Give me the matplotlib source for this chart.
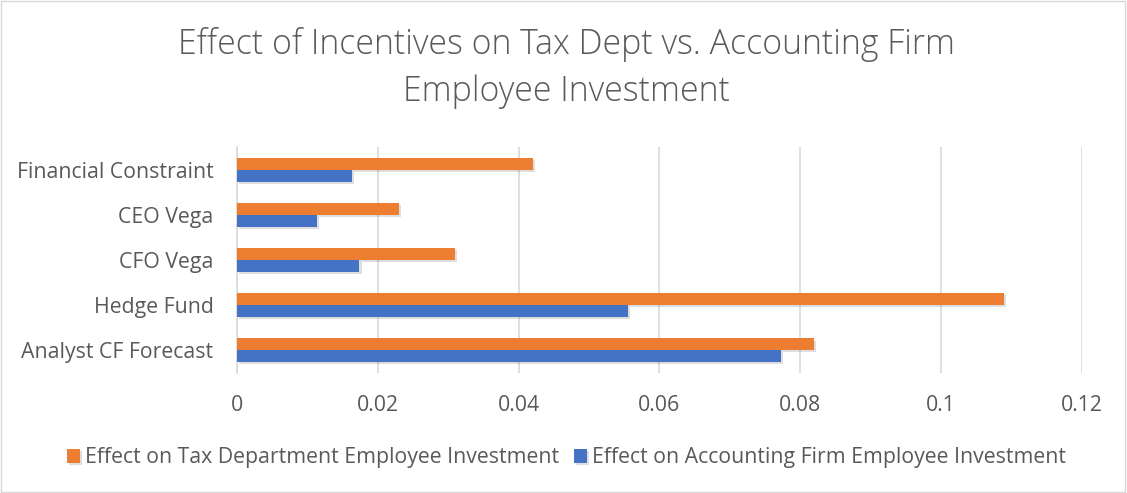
import numpy as np
import matplotlib.pyplot as plt
import matplotlib.patheffects as pe
from matplotlib.patches import Rectangle

categories = ["Analyst CF Forecast", "Hedge Fund", "CFO Vega", "CEO Vega", "Financial Constraint"]
tax_dept = [0.082, 0.109, 0.031, 0.023, 0.042]
acct_firm = [0.0773, 0.0555, 0.0174, 0.0114, 0.0163]
xticks = [0, 0.02, 0.04, 0.06, 0.08, 0.1, 0.12]
xtick_labels = ["0", "0.02", "0.04", "0.06", "0.08", "0.1", "0.12"]

ORANGE = "#ED7D31"
BLUE = "#4472C4"
TEXT = "#595959"

plt.rcParams["font.family"] = ["Open Sans", "DejaVu Sans"]

fig = plt.figure(figsize=(11.27, 4.93), dpi=100)
ax = fig.add_axes([0.2103, 1 - 373 / 493, 0.7494, 226 / 493])

y = np.arange(len(categories))
h = 0.265
shadow = [pe.SimplePatchShadow(offset=(1.5, -1.5), shadow_rgbFace="#000000", alpha=0.13), pe.Normal()]

bars_tax = ax.barh(y + h / 2, tax_dept, height=h, color=ORANGE,
                   label="Effect on Tax Department Employee Investment", zorder=3)
bars_acct = ax.barh(y - h / 2, acct_firm, height=h, color=BLUE,
                    label="Effect on Accounting Firm Employee Investment", zorder=3)
for b in list(bars_tax) + list(bars_acct):
    b.set_path_effects(shadow)

ax.set_xlim(0, 0.12)
ax.set_ylim(-0.5, len(categories) - 0.5)
ax.set_xticks(xticks)
ax.set_xticklabels(xtick_labels)
ax.set_yticks(y)
ax.set_yticklabels(categories)
ax.tick_params(axis="both", length=0, labelsize=15.3, colors=TEXT)
ax.tick_params(axis="x", pad=16)
ax.tick_params(axis="y", pad=17)

ax.grid(axis="x", color="#D9D9D9", linewidth=1.2, zorder=0)
for s in ["top", "right", "bottom"]:
    ax.spines[s].set_visible(False)
ax.spines["left"].set_color("#D9D9D9")
ax.spines["left"].set_linewidth(1.2)

fig.suptitle("Effect of Incentives on Tax Dept vs. Accounting Firm\nEmployee Investment",
             x=0.503, y=0.945, fontsize=24.4, color=TEXT, fontweight="light", linespacing=1.45)

handles, labels = ax.get_legend_handles_labels()
fig.legend(handles, labels, loc="center", bbox_to_anchor=(0.503, 1 - 458 / 493), ncol=2,
           frameon=False, fontsize=15.3, labelcolor=TEXT, handlelength=0.6, handleheight=0.6,
           handletextpad=0.25, columnspacing=0.7)

fig.patches.append(Rectangle((0.001, 0.002), 0.997, 0.996, transform=fig.transFigure,
                             fill=False, edgecolor="#D9D9D9", linewidth=1))

fig.savefig("out.png", dpi=100, facecolor="white")
